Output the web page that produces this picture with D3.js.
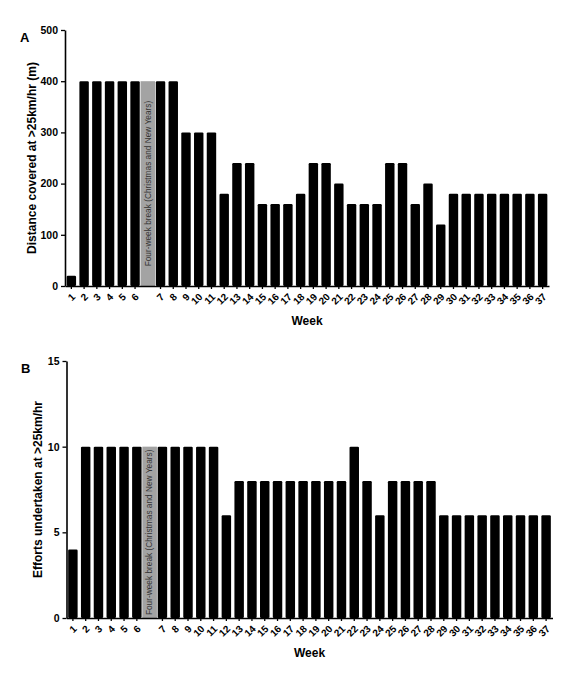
<!DOCTYPE html>
<html lang="en">
  <head>
    <meta charset="UTF-8" />
    <script src="https://d3js.org/d3.v7.min.js"></script>
    <title>Weekly high-speed running</title>
    <style>
      body { margin: 0; background: #fff; }
      text { font-family: "Liberation Sans", Arial, sans-serif; }
    </style>
  </head>

  <body>
    <script>
      // weeks, with a gap slot for the four-week break after week 6
      const weeks = ["1", "2", "3", "4", "5", "6", "break", "7", "8", "9", "10",
        "11", "12", "13", "14", "15", "16", "17", "18", "19", "20", "21", "22",
        "23", "24", "25", "26", "27", "28", "29", "30", "31", "32", "33", "34",
        "35", "36", "37"];

      // panel A: distance covered >25km/hr (m), weeks 1..37
      const distance = [20, 400, 400, 400, 400, 400, 400, 400, 300, 300, 300,
        180, 240, 240, 160, 160, 160, 180, 240, 240, 200, 160, 160, 160, 240,
        240, 160, 200, 120, 180, 180, 180, 180, 180, 180, 180, 180];

      // panel B: efforts undertaken >25km/hr, weeks 1..37
      const efforts = [4, 10, 10, 10, 10, 10, 10, 10, 10, 10, 10, 6, 8, 8, 8, 8,
        8, 8, 8, 8, 8, 10, 8, 6, 8, 8, 8, 8, 6, 6, 6, 6, 6, 6, 6, 6, 6];

      const ticksA = [0, 100, 200, 300, 400, 500];
      const ticksB = [0, 5, 10, 15];
      const breakLabel = "Four-week break  (Christmas and New Years)";

      const svg = d3.select("body")
        .append("svg")
        .attr("width", 570)
        .attr("height", 680);

      function panel(opt) {
        const data = weeks.filter((w) => w !== "break")
          .map((w, i) => ({ week: w, value: opt.values[i] }));

        const x = d3.scaleBand()
          .domain(weeks)
          .range([opt.left, opt.right])
          .paddingInner(0.26)
          .paddingOuter(0.13);

        const y = d3.scaleLinear()
          .domain([0, opt.max])
          .range([opt.bottom, opt.top]);

        const g = svg.append("g");

        // the break bar
        const bx = x("break") + x.bandwidth() / 2;
        const bw = x.step() * 1.14;
        g.append("rect")
          .attr("x", bx - bw / 2)
          .attr("y", y(opt.breakValue))
          .attr("width", bw)
          .attr("height", y(0) - y(opt.breakValue))
          .attr("fill", "#a3a3a3");

        const by = (y(0) + y(opt.breakValue)) / 2;
        g.append("text")
          .attr("transform", `translate(${bx + 2.8},${by}) rotate(-90)`)
          .attr("text-anchor", "middle")
          .attr("font-size", 8.3)
          .attr("fill", "#333")
          .text(breakLabel);

        g.selectAll("rect.bar")
          .data(data)
          .join("rect")
          .attr("class", "bar")
          .attr("x", (d) => x(d.week))
          .attr("y", (d) => y(d.value))
          .attr("width", x.bandwidth())
          .attr("height", (d) => y(0) - y(d.value))
          .attr("rx", 1.2)
          .attr("fill", "#000");

        // x axis
        const axisX = d3.axisBottom(x)
          .tickSize(3)
          .tickSizeOuter(0)
          .tickFormat((d) => (d === "break" ? "" : d));
        const gx = g.append("g")
          .attr("transform", `translate(0,${opt.bottom})`)
          .call(axisX);
        gx.selectAll(".tick").filter((d) => d === "break").remove();
        gx.select(".domain").attr("stroke-width", 1.6);
        gx.selectAll(".tick line").attr("stroke-width", 1.3);
        gx.selectAll(".tick text")
          .attr("x", 0)
          .attr("y", 0)
          .attr("dy", "0.35em")
          .attr("font-size", 10)
          .attr("font-weight", "bold")
          .attr("fill", "#000")
          .attr("text-anchor", "end")
          .attr("transform", "translate(2,9) rotate(-45)");

        // y axis
        const axisY = d3.axisLeft(y)
          .tickValues(opt.ticks)
          .tickSize(4)
          .tickSizeOuter(0);
        const gy = g.append("g")
          .attr("transform", `translate(${opt.left},0)`)
          .call(axisY);
        gy.select(".domain").attr("stroke-width", 1.6);
        gy.selectAll(".tick line").attr("stroke-width", 1.3);
        gy.selectAll(".tick text")
          .attr("font-size", 10.5)
          .attr("font-weight", "bold")
          .attr("fill", "#000");

        g.append("text")
          .attr("transform", `translate(${opt.titleX},${(opt.top + opt.bottom) / 2}) rotate(-90)`)
          .attr("text-anchor", "middle")
          .attr("font-size", 12)
          .attr("font-weight", "bold")
          .text(opt.title);

        g.append("text")
          .attr("x", (opt.left + opt.right) / 2)
          .attr("y", opt.weekY)
          .attr("text-anchor", "middle")
          .attr("font-size", 12)
          .attr("font-weight", "bold")
          .text("Week");

        g.append("text")
          .attr("x", opt.letterX)
          .attr("y", opt.letterY)
          .attr("font-size", 13)
          .attr("font-weight", "bold")
          .text(opt.letter);
      }

      panel({
        values: distance, max: 500, ticks: ticksA, breakValue: 400,
        left: 65, right: 549, top: 30, bottom: 286,
        title: "Distance covered at >25km/hr (m)", titleX: 36,
        weekY: 325, letter: "A", letterX: 20, letterY: 42
      });

      panel({
        values: efforts, max: 15, ticks: ticksB, breakValue: 10,
        left: 66.5, right: 552.5, top: 361, bottom: 618,
        title: "Efforts undertaken at >25km/hr", titleX: 42,
        weekY: 657, letter: "B", letterX: 21, letterY: 373
      });
    </script>
  </body>
</html>
